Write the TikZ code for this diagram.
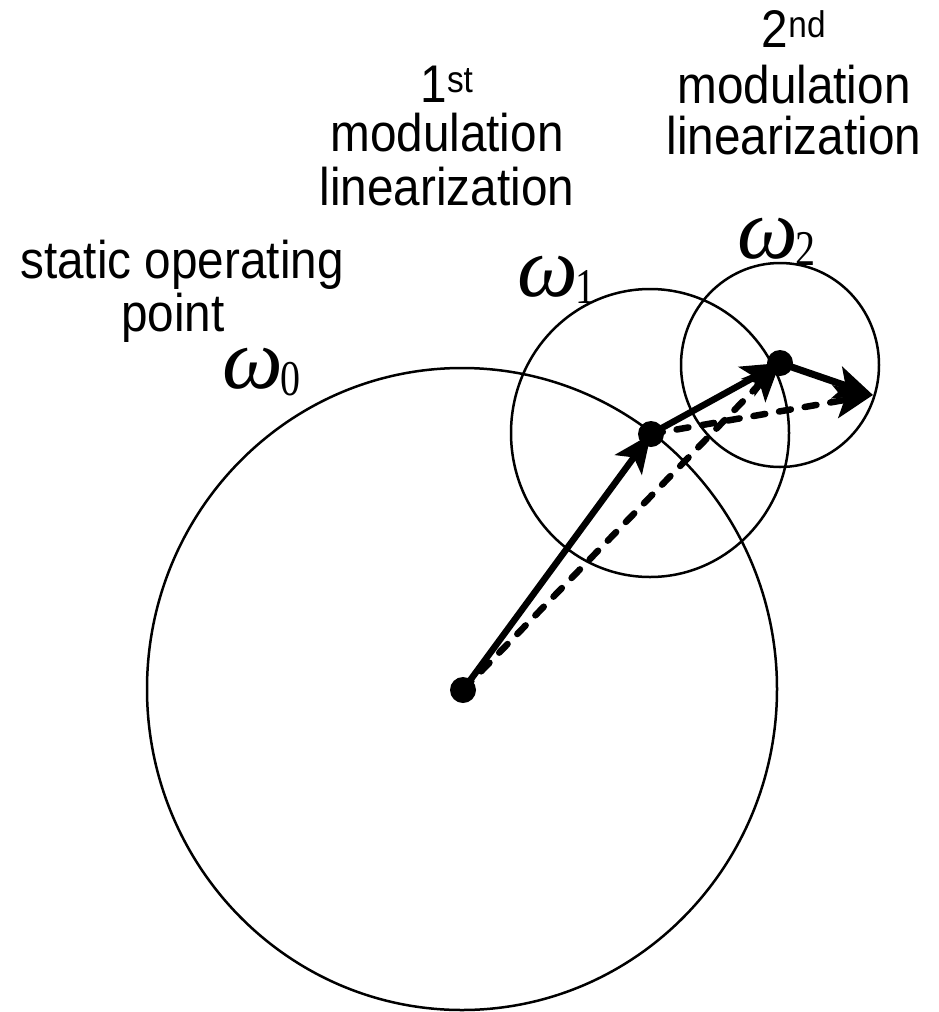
\documentclass[tikz,border=0pt]{standalone}
\usepackage{fontspec}
\setmainfont{Liberation Sans}
\newfontfamily\labfont[FakeStretch=0.9]{Liberation Sans}
\newfontfamily\omfont{Liberation Serif}
\newfontfamily\subfont[FakeStretch=0.8]{Liberation Serif}
\usetikzlibrary{arrows.meta}
\newcommand{\omlab}[1]{{\omfont\fontsize{86}{86}\selectfont\itshape ω}\kern-2pt{\subfont\fontsize{50}{50}\selectfont\raisebox{-7pt}{#1}}}
\begin{document}
\begin{tikzpicture}[x=1pt,y=-1pt,
  lab/.style={font=\labfont\fontsize{53}{60}\selectfont, inner sep=0pt, anchor=base},
  om/.style={inner sep=0pt, anchor=base west},
  ring/.style={line width=2.5pt},
  dot/.style={circle, fill=black, inner sep=0pt, minimum size=26pt},
  tip/.style={-{Stealth[length=38pt,width=33pt,inset=9pt]}},
  vec/.style={tip, line width=6.5pt},
  bigvec/.style={tip, line width=7pt},
  dvec/.style={tip, line width=6.5pt, dash pattern=on 12pt off 14pt, line cap=round}
]
\useasboundingbox (0,0) rectangle (939,1012);

% circles
\draw[ring] (462,689) ellipse [x radius=315, y radius=321];
\draw[ring] (650,433) ellipse [x radius=139, y radius=144];
\draw[ring] (780,365) ellipse [x radius=99, y radius=102];

% points
\coordinate (p0) at (463,690);
\coordinate (p1) at (651,434);
\coordinate (p2) at (780,363);
\coordinate (p3) at (873,395);

% vectors
\draw[dvec] (p0) -- (p2);
\draw[dvec] (p1) -- (p3);
\draw[vec] (p0) -- (p1);
\draw[vec] (p1) -- (p2);
\draw[bigvec] (p2) -- (p3);

\node[dot] (d0) at (p0) {};
\node[dot] (d1) at (p1) {};
\node[dot] (d2) at (p2) {};

% labels
\node[lab] (a1) at (447,102) {1\textsuperscript{st}};
\node[lab] (a2) at (447,151) {modulation};
\node[lab] (a3) at (447,205) {linearization};
\node[lab] (b1) at (794,47) {2\textsuperscript{nd}};
\node[lab] (b2) at (794,103) {modulation};
\node[lab] (b3) at (794,154) {linearization};
\node[lab] (c1) at (182,278) {static operating};
\node[lab] (c2) at (173,331) {point};

\node[om] (w0) at (222,388) {\omlab{0}};
\node[om] (w1) at (517,296) {\omlab{1}};
\node[om] (w2) at (737,258) {\omlab{2}};
\end{tikzpicture}
\end{document}
